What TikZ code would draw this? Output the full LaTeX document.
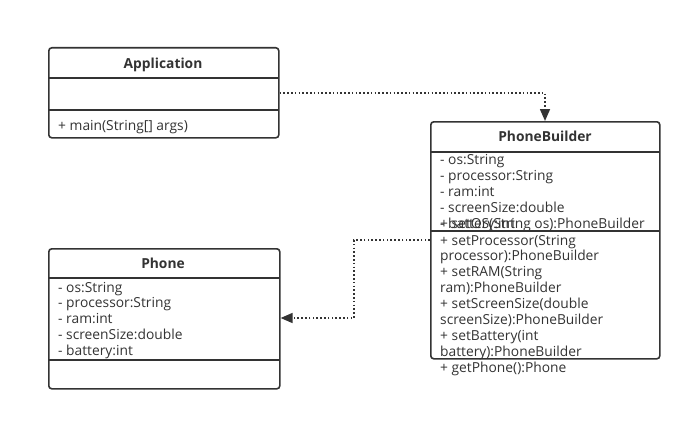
\documentclass[tikz,border=0pt]{standalone}
\usepackage{fontspec}
\setmainfont{Open Sans}
\usetikzlibrary{arrows.meta}
\definecolor{ink}{HTML}{333333}
\begin{document}
\begin{tikzpicture}[x=1pt,y=-1pt,
  umlbox/.style={draw=ink,line width=1.6pt,rounded corners=3pt,inner sep=0pt,anchor=north west},
  divider/.style={draw=ink,line width=1.6pt},
  title/.style={font=\fontsize{13.8}{15}\selectfont\bfseries,text=ink,inner sep=0pt,text height=7pt,text depth=2pt,yshift=-2.5pt},
  member/.style={font=\fontsize{13.8}{15}\selectfont,text=ink,inner sep=0pt,anchor=west,text height=7pt,text depth=2pt,yshift=-2.5pt},
  dep/.style={draw=ink,line width=1.6pt,dash pattern=on 1.6pt off 2.2pt,-{Triangle[length=12pt,width=10pt]}}]
\useasboundingbox (0,0) rectangle (692,420);
\fill[white] (0,0) rectangle (692,420);
% Application
\node[umlbox,minimum width=230pt,minimum height=90pt] (app) at (48,47) {};
\draw[divider] (48,78) -- (278,78);
\draw[divider] (48,110) -- (278,110);
\node[title] (appt) at (163,63) {Application};
\node[member] (appm1) at (58,125) {+ main(String[] args)};
% PhoneBuilder
\node[umlbox,minimum width=229pt,minimum height=237pt] (pb) at (430,121) {};
\draw[divider] (430,152) -- (659,152);
\draw[divider] (430,231) -- (659,231);
\node[title] (pbt) at (545,136) {PhoneBuilder};
\node[member] (pbf1) at (440,159) {- os:String};
\node[member] (pbf2) at (440,175) {- processor:String};
\node[member] (pbf3) at (440,191) {- ram:int};
\node[member] (pbf4) at (440,207) {- screenSize:double};
\node[member] (pbf5) at (440,223) {- battery:int};
\node[member] (pbm1) at (440,223) {+ setOS(String os):PhoneBuilder};
\node[member] (pbm2) at (440,240) {+ setProcessor(String};
\node[member] (pbm3) at (440,255) {processor):PhoneBuilder};
\node[member] (pbm4) at (440,271) {+ setRAM(String};
\node[member] (pbm5) at (440,287) {ram):PhoneBuilder};
\node[member] (pbm6) at (440,303) {+ setScreenSize(double};
\node[member] (pbm7) at (440,319) {screenSize):PhoneBuilder};
\node[member] (pbm8) at (440,335) {+ setBattery(int};
\node[member] (pbm9) at (440,351) {battery):PhoneBuilder};
\node[member] (pbm10) at (440,367) {+ getPhone():Phone};
% Phone
\node[umlbox,minimum width=231pt,minimum height=140pt] (ph) at (48,248) {};
\draw[divider] (48,278) -- (279,278);
\draw[divider] (48,360) -- (279,360);
\node[title] (pht) at (163,263) {Phone};
\node[member] (phf1) at (58,287) {- os:String};
\node[member] (phf2) at (58,302) {- processor:String};
\node[member] (phf3) at (58,318) {- ram:int};
\node[member] (phf4) at (58,334) {- screenSize:double};
\node[member] (phf5) at (58,350) {- battery:int};
% connectors
\coordinate (a1) at (app.east |- 0,93);
\coordinate (a2) at (545,93);
\draw[dep] (a1) -- (a2) -- (pb.north -| a2);
\coordinate (b1) at (pb.west |- 0,240);
\coordinate (b2) at (354,240);
\coordinate (b3) at (354,318);
\draw[dep] (b1) -- (b2) -- (b3) -- (ph.east |- b3);
\end{tikzpicture}
\end{document}
